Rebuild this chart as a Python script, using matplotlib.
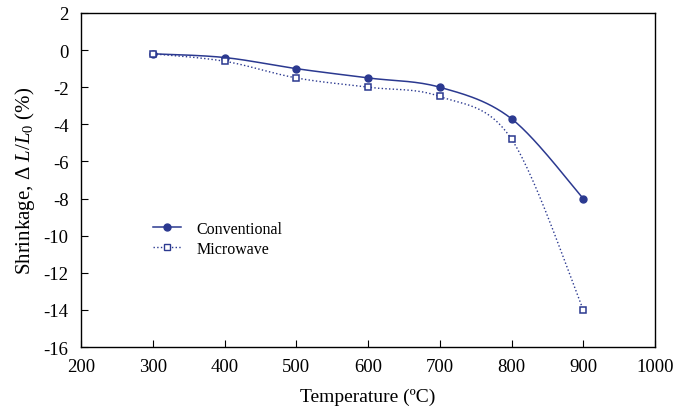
import numpy as np
import matplotlib
matplotlib.use("Agg")
import matplotlib.pyplot as plt
from matplotlib.lines import Line2D

temps = [300, 400, 500, 600, 700, 800, 900]
conventional = [-0.2, -0.4, -1.0, -1.5, -2.0, -3.7, -8.0]
microwave = [-0.2, -0.6, -1.5, -2.0, -2.5, -4.8, -14.0]

color = "#2B3990"

def smooth(xs, ys, n=30):
    # Excel-like Catmull-Rom smoothing for drawing the line
    xs = np.asarray(xs, float); ys = np.asarray(ys, float)
    px = np.concatenate([[xs[0]], xs, [xs[-1]]])
    py = np.concatenate([[ys[0]], ys, [ys[-1]]])
    ox, oy = [], []
    for i in range(1, len(px) - 2):
        p0 = np.array([px[i-1], py[i-1]]); p1 = np.array([px[i], py[i]])
        p2 = np.array([px[i+1], py[i+1]]); p3 = np.array([px[i+2], py[i+2]])
        c1 = p1 + (p2 - p0) / 6.0
        c2 = p2 - (p3 - p1) / 6.0
        t = np.linspace(0, 1, n)[:, None]
        b = (1-t)**3*p1 + 3*(1-t)**2*t*c1 + 3*(1-t)*t**2*c2 + t**3*p2
        ox.extend(b[:, 0]); oy.extend(b[:, 1])
    return ox, oy

plt.rcParams['font.family'] = ['Liberation Serif', 'DejaVu Serif']
plt.rcParams['axes.unicode_minus'] = False
plt.rcParams['mathtext.fontset'] = 'custom'
plt.rcParams['mathtext.rm'] = 'Liberation Serif'
plt.rcParams['mathtext.it'] = 'Liberation Serif:italic'
plt.rcParams['mathtext.bf'] = 'Liberation Serif:bold'

fig = plt.figure(figsize=(6.73, 4.10), dpi=100)
ax = fig.add_axes([0.1204, 0.1512, 0.8529, 0.8147])

sx, sy = smooth(temps, conventional)
ax.plot(sx, sy, '-', color=color, lw=1.1)
ax.plot(temps, conventional, 'o', color=color, ms=5)
sx, sy = smooth(temps, microwave)
ax.plot(sx, sy, ':', color=color, lw=1.0)
ax.plot(temps, microwave, 's', mfc='white', mec=color, mew=1.1, ms=5)

h1 = Line2D([], [], color=color, lw=1.1, ls='-', marker='o', ms=5)
h2 = Line2D([], [], color=color, lw=1.0, ls=':', marker='s', ms=5, mfc='white', mec=color)
ax.legend([h1, h2], ['Conventional', 'Microwave'], frameon=False, fontsize=11.5,
          loc='upper left', bbox_to_anchor=(0.125, 0.377), handlelength=1.75,
          labelspacing=0.25, handletextpad=1.0, borderpad=0, borderaxespad=0)

ax.set_xlim(200, 1000)
ax.set_ylim(-16, 2)
ax.set_xticks(range(200, 1001, 100))
ax.set_yticks(range(-16, 3, 2))
ax.tick_params(direction='in', labelsize=13.5, top=False, right=False, length=5)
ax.tick_params(axis='x', pad=8)
ax.tick_params(axis='y', pad=9)
ax.set_xlabel('Temperature (ºC)', fontsize=14, labelpad=9)
ax.set_ylabel(r'Shrinkage, Δ $\mathit{L/L_0}$ (%)', fontsize=15, labelpad=5)
for s in ax.spines.values():
    s.set_linewidth(1.0)

fig.savefig('out.png', dpi=100)
